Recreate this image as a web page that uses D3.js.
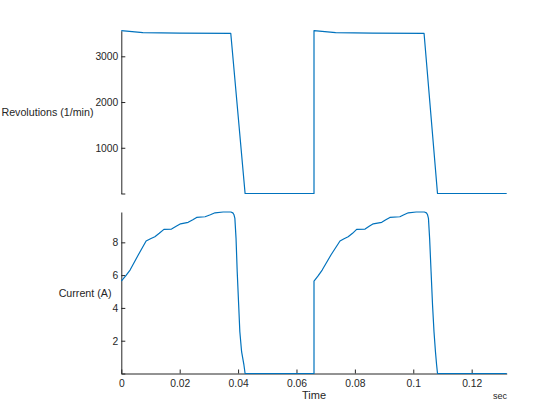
<!DOCTYPE html>
<html>
<head>
<meta charset="utf-8">
<script src="https://cdn.jsdelivr.net/npm/d3@7"></script>
<style>
  body { margin: 0; background: #fff; }
  svg { display: block; font-family: "Liberation Sans", Arial, sans-serif; }
  .axis path, .axis line { stroke: #262626; }
  .axis text { fill: #262626; font-size: 10.3px; }
</style>
</head>
<body>
<script>
const width = 560;
const height = 420;

// revolutions (1/min) vs time (sec)
const revTime = [0, 0.0074, 0.02, 0.0375, 0.0424, 0.066, 0.066, 0.0734, 0.086, 0.1037, 0.1083, 0.132];
const revValue = [3560, 3520, 3505, 3500, 0, 0, 3560, 3520, 3505, 3500, 0, 0];

// current (A) vs time (sec)
const curTime = [0, 0.0015, 0.003, 0.0058, 0.0085, 0.01, 0.0115, 0.013, 0.0146, 0.0172, 0.0188,
    0.0203, 0.0229, 0.0245, 0.0258, 0.0287, 0.0305, 0.0321, 0.0349, 0.0375, 0.0382, 0.0386,
    0.0389, 0.0393, 0.0397, 0.0402, 0.0406, 0.0412, 0.042, 0.0424,
    0.066, 0.066, 0.0674, 0.0688, 0.0718, 0.0749, 0.0763, 0.0777, 0.0792, 0.0806, 0.0835, 0.0849,
    0.0863, 0.0892, 0.0906, 0.092, 0.0954, 0.0968, 0.0983, 0.101, 0.1038, 0.1045, 0.1049,
    0.1052, 0.1056, 0.1061, 0.1066, 0.1071, 0.1076, 0.108, 0.1083, 0.132];
const curValue = [5.64, 5.95, 6.31, 7.23, 8.08, 8.22, 8.34, 8.55, 8.79, 8.81, 8.98,
    9.13, 9.22, 9.38, 9.52, 9.56, 9.68, 9.8, 9.85, 9.85, 9.8, 9.68,
    9.46, 8.24, 6.2, 4.18, 2.55, 1.33, 0.52, 0,
    0, 5.64, 5.95, 6.31, 7.23, 8.08, 8.22, 8.34, 8.55, 8.79, 8.81, 8.98,
    9.13, 9.22, 9.38, 9.52, 9.56, 9.68, 9.8, 9.85, 9.85, 9.8, 9.68,
    9.46, 8.24, 6.2, 4.18, 2.55, 1.33, 0.52, 0, 0];

const xTicks = [0, 0.02, 0.04, 0.06, 0.08, 0.1, 0.12];
const revTicks = [0, 1000, 2000, 3000];
const curTicks = [0, 2, 4, 6, 8];

const lineColor = "#0072bd";

let svg = d3.select("body").append("svg")
    .attr("width", width)
    .attr("height", height);

let x = d3.scaleLinear().domain([0, 0.132]).range([121.3, 506.7]);
let yRev = d3.scaleLinear().domain([0, 3560]).range([193.5, 30.7]);
let yCur = d3.scaleLinear().domain([0, 9.85]).range([373.5, 212]);

const hideZero = d => d === 0 ? "" : d;

// top panel: y axis only
svg.append("g")
    .attr("class", "axis")
    .attr("transform", "translate(" + x.range()[0] + ",0)")
    .call(d3.axisLeft(yRev).tickValues(revTicks).tickFormat(hideZero)
        .tickSizeInner(-4).tickSizeOuter(0).tickPadding(3))
    .call(g => g.selectAll("text").attr("font-family", null).attr("font-size", null));

// bottom panel
svg.append("g")
    .attr("class", "axis")
    .attr("transform", "translate(" + x.range()[0] + ",0)")
    .call(d3.axisLeft(yCur).tickValues(curTicks).tickFormat(hideZero)
        .tickSizeInner(-4).tickSizeOuter(0).tickPadding(3))
    .call(g => g.selectAll("text").attr("font-family", null).attr("font-size", null));

svg.append("g")
    .attr("class", "axis")
    .attr("transform", "translate(0," + yCur.range()[0] + ")")
    .call(d3.axisBottom(x).tickValues(xTicks).tickFormat(d => d === 0 ? "0" : String(+d.toFixed(2)))
        .tickSizeInner(-4).tickSizeOuter(0).tickPadding(6))
    .call(g => g.selectAll("text").attr("font-family", null).attr("font-size", null));

// lines
let revLine = d3.line()
    .x((d, i) => x(revTime[i]))
    .y(d => yRev(d));
let curLine = d3.line()
    .x((d, i) => x(curTime[i]))
    .y(d => yCur(d));

svg.append("path")
    .attr("d", revLine(revValue))
    .attr("fill", "none")
    .attr("stroke", lineColor)
    .attr("stroke-width", 1.2)
    .attr("stroke-linejoin", "round");

svg.append("path")
    .attr("d", curLine(curValue))
    .attr("fill", "none")
    .attr("stroke", lineColor)
    .attr("stroke-width", 1.2)
    .attr("stroke-linejoin", "round");

// labels
svg.append("text")
    .attr("x", 93.5)
    .attr("y", 116)
    .attr("text-anchor", "end")
    .attr("font-size", 10.7)
    .attr("fill", "#262626")
    .text("Revolutions (1/min)");

svg.append("text")
    .attr("x", 111.5)
    .attr("y", 297)
    .attr("text-anchor", "end")
    .attr("font-size", 10.7)
    .attr("fill", "#262626")
    .text("Current (A)");

svg.append("text")
    .attr("x", 314)
    .attr("y", 399)
    .attr("text-anchor", "middle")
    .attr("font-size", 11)
    .attr("fill", "#262626")
    .text("Time");

svg.append("text")
    .attr("x", 507)
    .attr("y", 399)
    .attr("text-anchor", "end")
    .attr("font-size", 9)
    .attr("fill", "#262626")
    .text("sec");
</script>
</body>
</html>
